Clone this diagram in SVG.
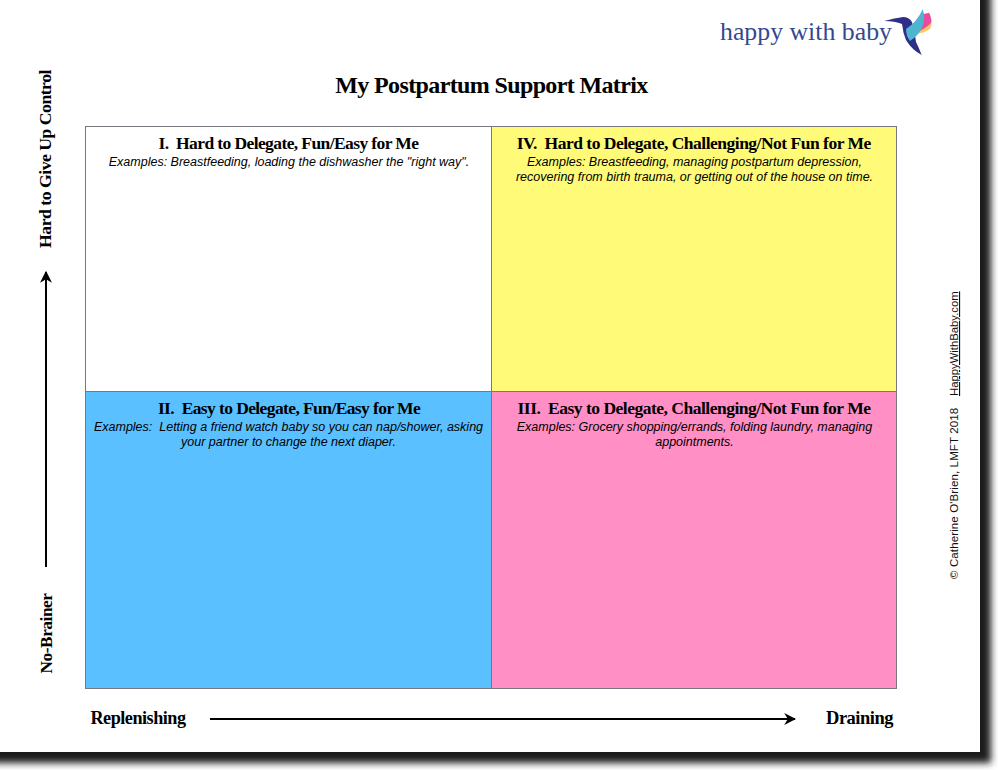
<svg xmlns="http://www.w3.org/2000/svg" width="998" height="770" viewBox="0 0 998 770">
<style>
.h{font-family:"Liberation Serif",serif;font-weight:bold;fill:#000;text-anchor:middle;letter-spacing:-.5px;white-space:pre}
.q{font-size:17.5px}
.t{letter-spacing:-.6px}
.m{letter-spacing:-.63px}
.e{font-family:"Liberation Sans",Arial,sans-serif;font-style:italic;font-size:12.5px;fill:#000;text-anchor:middle;white-space:pre}
.c{stroke:#77777f;stroke-width:1}
.a{stroke:#000;stroke-width:2;fill:none;marker-end:url(#ah)}
</style>
<defs>
<marker id="ah" markerWidth="12" markerHeight="12" refX="9" refY="5" orient="auto" markerUnits="userSpaceOnUse" viewBox="0 0 10 10"><path d="M0 0L10 5L0 10L3 5Z" fill="#000"/></marker>
<filter id="sh" x="-5%" y="-5%" width="110%" height="110%"><feGaussianBlur stdDeviation="3.500"/></filter>
</defs>
<rect width="998" height="770" fill="#fff"/>
<rect id="shadow" x="-20" y="-20" width="1011" height="783" fill="#1c1c1c" filter="url(#sh)"/>
<rect id="page" x="-20" y="-20" width="1000" height="772" fill="#fff"/>
<g id="logo">
<text x="720" y="40" font-family="Liberation Serif,serif" font-size="25.800" fill="#36488f">happy with baby</text>
<path d="M884 21Q895 18 903 17Q909 17 912 22Q915 34 916 42Q919 48 921.700 55Q912 50 906 40Q903 33 902 24Q895 21 884 21Z" fill="#2e2f86"/>
<path d="M930 29Q925 33 915 34L924 20L931.500 20Q932 25 930 29Z" fill="#f9c85e"/>
<path d="M929 12.700Q932 18 931 23Q925 29 915 33L924 14Z" fill="#ea4b9b"/>
<path d="M922.700 9.300Q926 18 922 28Q918 36 910 41Q906 36 906 29Q917 22 922.700 9.300Z" fill="#4fb4cf"/>
</g>
<text id="title" class="h m" x="491.500" y="93" font-size="24">My Postpartum Support Matrix</text>
<g id="q1">
<rect class="c" x="85.500" y="126.500" width="406" height="265" fill="#fff"/>
<text class="h q t" x="288.500" y="149">I.  Hard to Delegate, Fun/Easy for Me</text>
<text class="e" x="289" y="166">Examples: Breastfeeding, loading the dishwasher the "right way".</text>
</g>
<g id="q4">
<rect class="c" x="491.500" y="126.500" width="405" height="265" fill="#fffb78"/>
<text class="h q" x="693.800" y="149">IV.  Hard to Delegate, Challenging/Not Fun for Me</text>
<text class="e" x="694.500" y="166">Examples: Breastfeeding, managing postpartum depression,</text>
<text class="e" x="694.500" y="181">recovering from birth trauma, or getting out of the house on time.</text>
</g>
<g id="q2">
<rect class="c" x="85.500" y="391.500" width="406" height="297" fill="#5ac0ff"/>
<text class="h q t" x="289" y="414">II.  Easy to Delegate, Fun/Easy for Me</text>
<text class="e" x="288.500" y="431">Examples:  Letting a friend watch baby so you can nap/shower, asking</text>
<text class="e" x="288.500" y="446">your partner to change the next diaper.</text>
</g>
<g id="q3">
<rect class="c" x="491.500" y="391.500" width="405" height="297" fill="#ff8fc4"/>
<text class="h q" x="694" y="414">III.  Easy to Delegate, Challenging/Not Fun for Me</text>
<text class="e" x="694.500" y="431">Examples: Grocery shopping/errands, folding laundry, managing</text>
<text class="e" x="694.500" y="446">appointments.</text>
</g>
<g id="axes">
<text class="h" x="138" y="724" font-size="18.200">Replenishing</text>
<text class="h" x="859.500" y="724" font-size="18.500">Draining</text>
<text class="h" font-size="17.700" transform="translate(51 159) rotate(-90)">Hard to Give Up Control</text>
<text class="h" font-size="17.400" transform="translate(52 633.500) rotate(-90)">No-Brainer</text>
</g>
<g id="connectors">
<path class="a" d="M210 719H795"/>
<path class="a" d="M46 567V272"/>
</g>
<g id="credit" font-family="Liberation Sans,Arial,sans-serif" fill="#111">
<text transform="translate(958 579) rotate(-90)" font-size="11.500" letter-spacing=".12">© Catherine O'Brien, LMFT 2018</text>
<text transform="translate(958 396) rotate(-90)" font-size="11.300" text-decoration="underline">HappyWithBaby.com</text>
</g>
</svg>
